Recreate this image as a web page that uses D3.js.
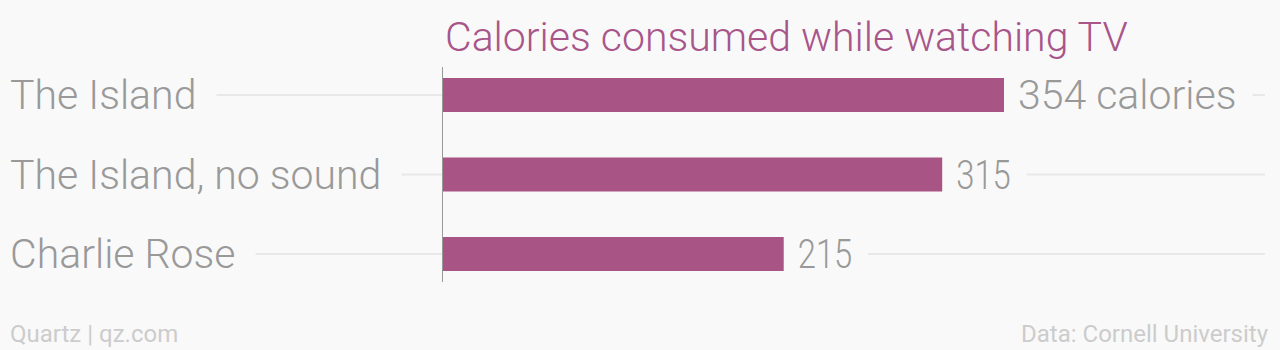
<!DOCTYPE html>
<html>
<head>
<meta charset="utf-8">
<script src="https://cdn.jsdelivr.net/npm/d3@7"></script>
<style>
  html, body { margin: 0; padding: 0; background: #f9f9f9; }
  svg { display: block; }
  text { font-family: Roboto, "Noto Sans", sans-serif; }
</style>
</head>
<body>
<svg id="chart" width="1280" height="350"></svg>
<script>
const categories = ["The Island", "The Island, no sound", "Charlie Rose"];
const values = [354, 315, 215];
const valueLabels = ["354 calories", "315", "215"];
const title = "Calories consumed while watching TV";
const sourceLeft = "Quartz | qz.com";
const sourceRight = "Data: Cornell University";

const W = 1280, H = 350;
const axisX = 442;
const barColor = "#a85586";

const svg = d3.select("#chart");
svg.append("rect").attr("width", W).attr("height", H).attr("fill", "#f9f9f9");

const x = d3.scaleLinear().domain([0, d3.max(values)]).range([axisX + 1, 1004]);
const y = d3.scalePoint().domain(categories).range([95, 254]);
const barH = 34;

// title
svg.append("text")
  .attr("x", 445).attr("y", 51)
  .attr("fill", "#a8558a")
  .attr("font-size", 41)
  .attr("font-weight", 300)
  .text(title);

const rows = svg.append("g").selectAll("g")
  .data(categories.map((c, i) => ({ c, v: values[i], l: valueLabels[i] })))
  .join("g");

// left labels
rows.append("text")
  .attr("class", "cat")
  .attr("x", 10)
  .attr("y", d => y(d.c) + 14)
  .attr("fill", "#999999")
  .attr("font-size", 41)
  .attr("font-weight", 300)
  .text(d => d.c);

// value labels
rows.append("text")
  .attr("class", "val")
  .attr("x", d => x(d.v) + 14)
  .attr("y", d => y(d.c) + 14)
  .attr("fill", "#999999")
  .attr("font-size", 41)
  .attr("font-weight", 300)
  .text(d => d.l)
  .each(function(d) {
    // condensed digits, as in the original typeface
    if (/^\d+$/.test(d.l)) {
      const n = this.getComputedTextLength();
      d3.select(this).attr("textLength", n * 0.8).attr("lengthAdjust", "spacingAndGlyphs");
    }
  });

// gridlines
rows.each(function(d) {
  const g = d3.select(this);
  const catW = g.select("text.cat").node().getComputedTextLength();
  const valNode = g.select("text.val").node();
  const tl = valNode.getAttribute("textLength");
  const valW = tl ? +tl : valNode.getComputedTextLength();
  const valEnd = x(d.v) + 14 + valW;
  g.insert("line", ":first-child")
    .attr("x1", 10 + catW + 20).attr("x2", axisX)
    .attr("y1", y(d.c)).attr("y2", y(d.c))
    .attr("stroke", "#e8e8e8").attr("stroke-width", 2);
  g.insert("line", ":first-child")
    .attr("x1", valEnd + 16).attr("x2", 1265)
    .attr("y1", y(d.c)).attr("y2", y(d.c))
    .attr("stroke", "#e8e8e8").attr("stroke-width", 2);
});

// bars
rows.append("rect")
  .attr("x", x(0))
  .attr("y", d => y(d.c) - barH / 2)
  .attr("width", d => x(d.v) - x(0))
  .attr("height", barH)
  .attr("fill", barColor);

// axis line
svg.append("line")
  .attr("x1", axisX + 0.5).attr("x2", axisX + 0.5)
  .attr("y1", 67).attr("y2", 282)
  .attr("stroke", "#999999").attr("stroke-width", 1);

// footer
svg.append("text")
  .attr("x", 10).attr("y", 342)
  .attr("fill", "#cccccc").attr("font-size", 24)
  .text(sourceLeft);
svg.append("text")
  .attr("x", 1268).attr("y", 342)
  .attr("text-anchor", "end")
  .attr("fill", "#cccccc").attr("font-size", 24)
  .text(sourceRight);
</script>
</body>
</html>
